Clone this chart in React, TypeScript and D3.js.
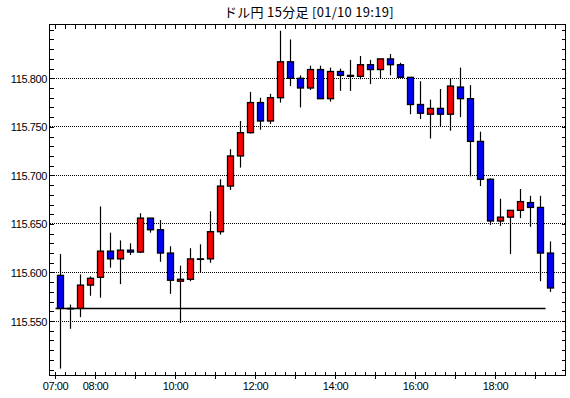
import React from "react";
import * as d3 from "d3";

const title = "ドル円 15分足 [01/10 19:19]";

const times = [
  "07:00","07:15","07:30","07:45","08:00","08:15","08:30","08:45",
  "09:00","09:15","09:30","09:45","10:00","10:15","10:30","10:45",
  "11:00","11:15","11:30","11:45","12:00","12:15","12:30","12:45",
  "13:00","13:15","13:30","13:45","14:00","14:15","14:30","14:45",
  "15:00","15:15","15:30","15:45","16:00","16:15","16:30","16:45",
  "17:00","17:15","17:30","17:45","18:00","18:15","18:30","18:45",
  "19:00","19:15",
];

const opens = [
  115.597,115.563,115.563,115.587,115.595,115.622,115.614,115.623,
  115.621,115.656,115.644,115.620,115.591,115.593,115.614,115.614,
  115.642,115.689,115.720,115.744,115.775,115.756,115.780,115.817,
  115.800,115.790,115.809,115.779,115.807,115.803,115.802,115.814,
  115.809,115.820,115.814,115.801,115.773,115.763,115.769,115.763,
  115.791,115.779,115.735,115.696,115.653,115.657,115.664,115.672,
  115.667,115.620,
];
const highs = [
  115.619,115.567,115.598,115.596,115.668,115.641,115.633,115.630,
  115.661,115.656,115.654,115.627,115.607,115.625,115.629,115.663,
  115.696,115.727,115.756,115.786,115.780,115.784,115.849,115.840,
  115.803,115.813,115.813,115.811,115.810,115.819,115.823,115.819,
  115.820,115.825,115.816,115.801,115.797,115.778,115.789,115.800,
  115.811,115.793,115.745,115.697,115.676,115.664,115.686,115.679,
  115.679,115.632,
];
const lows = [
  115.501,115.542,115.554,115.576,115.574,115.605,115.588,115.618,
  115.620,115.641,115.611,115.578,115.548,115.591,115.600,115.610,
  115.639,115.685,115.708,115.743,115.747,115.753,115.775,115.792,
  115.770,115.788,115.779,115.776,115.787,115.787,115.799,115.794,
  115.800,115.803,115.801,115.763,115.758,115.738,115.750,115.746,
  115.760,115.699,115.689,115.649,115.648,115.619,115.656,115.647,
  115.591,115.580,
];
const closes = [
  115.563,115.563,115.587,115.594,115.622,115.614,115.623,115.621,
  115.656,115.644,115.620,115.592,115.593,115.614,115.614,115.642,
  115.689,115.720,115.744,115.775,115.756,115.780,115.817,115.800,
  115.790,115.809,115.779,115.807,115.803,115.802,115.814,115.809,
  115.820,115.814,115.801,115.773,115.764,115.769,115.763,115.792,
  115.779,115.735,115.696,115.653,115.657,115.664,115.673,115.667,
  115.620,115.584,
];

const refLevel = 115.563;
const refStart = "07:00";
const refEnd = "19:15";

const yGridValues = [115.55, 115.6, 115.65, 115.7, 115.75, 115.8];
const yTickLabels = ["115.550", "115.600", "115.650", "115.700", "115.750", "115.800"];
const xTickLabels = ["07:00", "08:00", "10:00", "12:00", "14:00", "16:00", "18:00"];

const W = 570;
const H = 398;
const left = 49.5;
const right = 565.5;
const top = 24.5;
const bottom = 375.5;

const toDate = (s: string) => {
  const [h, m] = s.split(":").map(Number);
  return new Date(2020, 0, 10, h, m);
};

export default function App() {
  const x = d3
    .scaleTime()
    .domain([toDate("07:00"), toDate("19:30")])
    .range([55.5, 555.5]);
  const y = d3.scaleLinear().domain([115.4944, 115.8552]).range([375, 24.7]);
  const half = 7.5 * 60 * 1000;
  const cx = (t: string) => x(new Date(toDate(t).getTime() + half));

  const quarterTicks = x.ticks(d3.timeMinute.every(15)!).filter((d) => {
    const px = x(d);
    return px > left && px < right;
  });
  const minorY = d3.range(115.5, 115.851, 0.01);

  const font = "'Liberation Sans', Arial, sans-serif";

  return (
    <svg width={W} height={H} style={{ position: "absolute", left: 0, top: 0, background: "#fff" }}>
      <rect x={0} y={0} width={W} height={H} fill="#fff" />
      <text
        x={309}
        y={17}
        textAnchor="middle"
        fontSize={13}
        letterSpacing={0.3}
        fontFamily="'Noto Sans CJK JP', sans-serif"
        fill="#000"
      >
        {title}
      </text>

      {/* grid lines */}
      {yGridValues.map((v) => (
        <line
          key={"g" + v}
          x1={left}
          x2={right}
          y1={y(v)}
          y2={y(v)}
          stroke="#000"
          strokeWidth={1}
          strokeDasharray="1,1"
          shapeRendering="crispEdges"
        />
      ))}

      {/* minor y ticks on both sides */}
      {minorY.map((v, i) => (
        <g key={"my" + i} shapeRendering="crispEdges">
          <line x1={left} x2={left + 4} y1={Math.round(y(v)) + 0.5} y2={Math.round(y(v)) + 0.5} stroke="#000" />
          <line x1={right - 4} x2={right} y1={Math.round(y(v)) + 0.5} y2={Math.round(y(v)) + 0.5} stroke="#000" />
        </g>
      ))}

      {/* x ticks top and bottom */}
      {quarterTicks.map((d, i) => {
        const px = Math.round(x(d) - 0.5) + 0.5;
        const isHour = d.getMinutes() === 0;
        return (
          <g key={"xt" + i} shapeRendering="crispEdges">
            <line x1={px} x2={px} y1={top} y2={top + 4} stroke="#000" />
            <line x1={px} x2={px} y1={bottom - 4} y2={bottom + (isHour ? 3 : 0)} stroke="#000" />
          </g>
        );
      })}

      {/* y labels */}
      {yGridValues.map((v, i) => (
        <text
          key={"yl" + i}
          x={47}
          y={y(v) + 4.5}
          textAnchor="end"
          fontSize={11}
          letterSpacing={-0.4}
          fontFamily={font}
          fill="#000"
        >
          {yTickLabels[i]}
        </text>
      ))}

      {/* x labels */}
      {xTickLabels.map((t) => (
        <text
          key={"xl" + t}
          x={x(toDate(t))}
          y={389.5}
          textAnchor="middle"
          fontSize={11}
          letterSpacing={-0.4}
          fontFamily={font}
          fill="#000"
        >
          {t}
        </text>
      ))}

      {/* reference line */}
      <line
        x1={x(toDate(refStart))}
        x2={x(toDate(refEnd))}
        y1={y(refLevel)}
        y2={y(refLevel)}
        stroke="#000"
        strokeWidth={1.5}
      />

      {/* candles */}
      {times.map((t, i) => {
        const o = opens[i];
        const c = closes[i];
        const h = highs[i];
        const l = lows[i];
        const px = Math.round(cx(t) - 0.5) + 0.5;
        const yTop = y(Math.max(o, c));
        const yBot = y(Math.min(o, c));
        const fill = c > o ? "#ff0000" : c < o ? "#0000ff" : "#000";
        return (
          <g key={"c" + i}>
            <line x1={px} x2={px} y1={y(h)} y2={y(l)} stroke="#000" strokeWidth={1.2} />
            <rect
              x={px - 3}
              y={yTop}
              width={6}
              height={Math.max(0.5, yBot - yTop)}
              fill={fill}
              stroke="#000"
              strokeWidth={1.3}
            />
          </g>
        );
      })}

      {/* frame */}
      <rect
        x={left}
        y={top}
        width={right - left}
        height={bottom - top}
        fill="none"
        stroke="#000"
        strokeWidth={1}
        shapeRendering="crispEdges"
      />
    </svg>
  );
}
